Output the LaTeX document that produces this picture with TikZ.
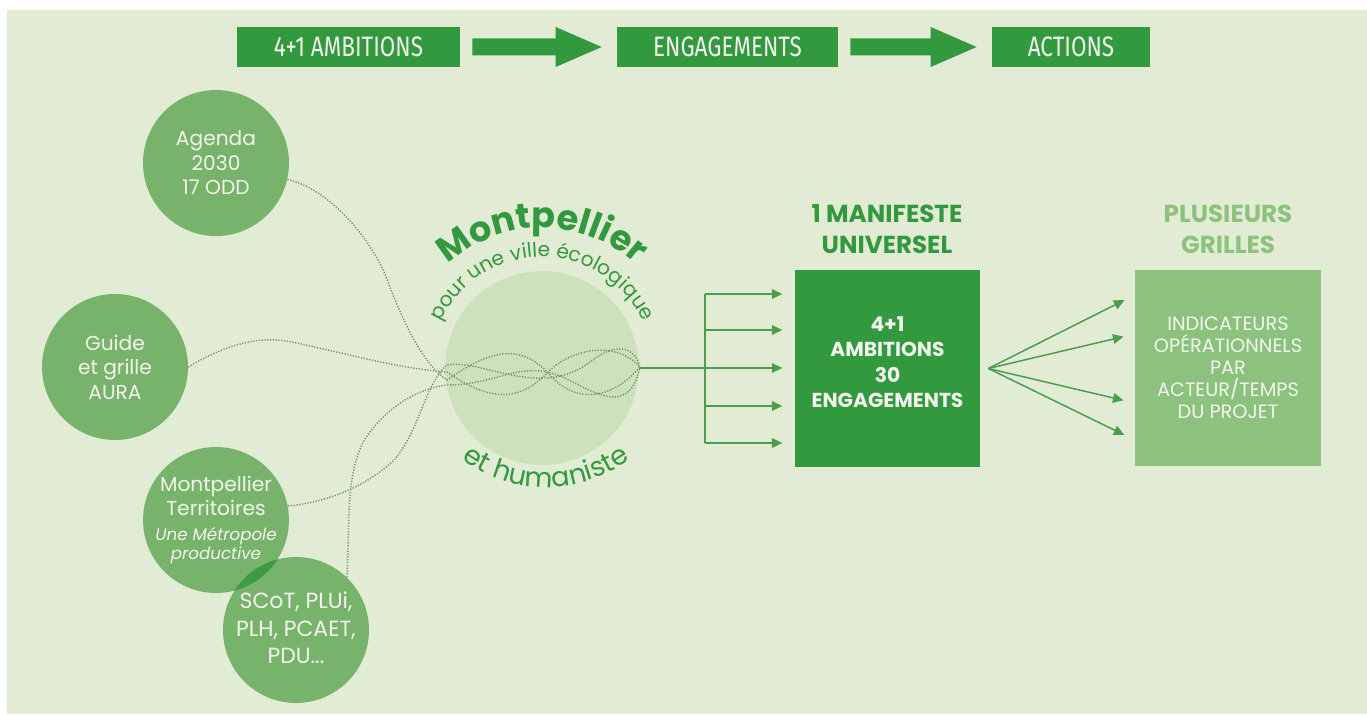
\documentclass[tikz,border=0pt]{standalone}
\usepackage{fontspec}
\setmainfont{Poppins}
\newfontfamily\condfont[FakeStretch=0.8]{Fira Sans}
\usetikzlibrary{arrows.meta,decorations.text,calc}
\definecolor{bg}{HTML}{E2ECD5}
\definecolor{dkg}{HTML}{33993F}
\definecolor{cg}{HTML}{78B36B}
\definecolor{lg}{HTML}{8CC27E}
\definecolor{bigc}{HTML}{CDE2BC}
\definecolor{dotc}{HTML}{6F9464}
\definecolor{ovl}{HTML}{3F9A45}
\definecolor{arrc}{HTML}{4A9E4C}
\definecolor{wt}{HTML}{F2F6EC}
\newcommand\fatarr[2]{\fill[dkg] ($(#1.east)+(12,-8.5)$) -- ($(#2.west)+(-61,-8.5)$) -- ($(#2.west)+(-61,-20)$) -- ($(#2.west)+(-15,0)$) -- ($(#2.west)+(-61,20)$) -- ($(#2.west)+(-61,8.5)$) -- ($(#1.east)+(12,8.5)$) -- cycle;}
\begin{document}
\begin{tikzpicture}[x=0.02cm,y=0.02cm,
  circ/.style={circle, fill=cg, inner sep=0pt, minimum size=2.92cm},
  ctext/.style={text=wt, align=center, font=\fontsize{11.5}{14}\selectfont},
  topbox/.style={fill=dkg, text=wt, inner sep=0pt, minimum height=0.8cm, font=\condfont\fontsize{16}{16}\selectfont},
  dots/.style={draw=dotc, line width=0.8pt, dash pattern=on 0.7pt off 0.9pt},
  ln/.style={draw=arrc, line width=0.85pt},
  arr/.style={ln, -{Triangle[length=6pt,width=5.5pt]}},
]
\fill[white] (0,0) rectangle (1367,714);
\fill[bg] (7,0) rectangle (1367,704);
\useasboundingbox (0,0) rectangle (1367,714);

% top row
\node[topbox, minimum width=4.46cm] (t1) at (348.5,667) {4+1 AMBITIONS};
\node[topbox, minimum width=4.42cm] (t2) at (727.5,667) {ENGAGEMENTS};
\node[topbox, minimum width=3.16cm] (t3) at (1071,667) {ACTIONS};
\fatarr{t1}{t2}
\fatarr{t2}{t3}

% source circles
\node[circ, ctext] (ag) at (216,551) {Agenda\\2030\\17 ODD};
\node[circ, ctext] (gu) at (115,347) {Guide\\et grille\\AURA};
\node[circ] (te) at (216,194) {};
\node[circ] (sc) at (296,84) {};
\begin{scope}
  \clip (216,194) circle (73);
  \fill[ovl] (296,84) circle (73);
\end{scope}
\node[ctext] (tetx) at (te.center) {Montpellier\\Territoires\\[0pt]{\itshape\fontsize{9.5}{11}\selectfont Une Métropole}\\[-3pt]{\itshape\fontsize{9.5}{11}\selectfont productive}};
\node[ctext, font=\fontsize{12.5}{15.6}\selectfont] (sctx) at (296,86) {SCoT, PLUi,\\PLH, PCAET,\\PDU...};

% central circle
\node[circle, fill=bigc, minimum size=3.88cm, inner sep=0pt] (bc) at (542,346) {};
\path[decorate, decoration={text along path, text align=center,
  text={|\color{dkg}\bfseries\fontsize{20}{20}\selectfont|Montpellier}}]
  (542,346) ++(165:140) arc[start angle=165, end angle=15, radius=140];
\path[decorate, decoration={text along path, text align=center,
  text={|\color{dkg}\fontsize{11.5}{11.5}\selectfont|pour une ville écologique}}]
  (542,346) ++(178:111) arc[start angle=178, end angle=2, radius=111];
\path[decorate, decoration={text along path, text align=center,
  text={|\color{dkg}\fontsize{15.5}{15.5}\selectfont|et humaniste}}]
  (546,369) ++(220:142) arc[start angle=220, end angle=320, radius=142];

% dotted links
\draw[dots] (ag.-13) .. controls (330,525) and (370,475) .. (385,440) .. controls (400,400) and (420,352) .. (447,334)
  .. controls (490,364) and (520,372) .. (550,339) .. controls (575,310) and (612,314) .. (640,347);
\draw[dots] (gu.east) .. controls (230,372) and (262,378) .. (292,372) .. controls (340,362) and (400,345) .. (447,342)
  .. controls (490,312) and (520,312) .. (548,342) .. controls (575,368) and (618,372) .. (640,347);
\draw[dots] (sc.46) .. controls (350,190) and (345,240) .. (365,275) .. controls (385,305) and (415,325) .. (447,329)
  .. controls (500,329) and (520,356) .. (565,336) .. controls (600,318) and (630,300) .. (640,347);
\draw[dots] (te.11) .. controls (330,212) and (370,230) .. (395,255) .. controls (420,285) and (425,330) .. (447,349)
  .. controls (480,356) and (540,314) .. (590,352) .. controls (615,372) and (635,368) .. (640,347);

% manifeste
\node[fill=dkg, minimum width=3.7cm, minimum height=3.94cm, inner sep=0pt] (mb) at (887.5,345.5) {};
\node[text=wt, align=center, font=\bfseries\fontsize{11.5}{14.5}\selectfont] (mbtx) at (887.5,352) {4+1\\AMBITIONS\\30\\ENGAGEMENTS};
\node[text=dkg, align=center, font=\bfseries\fontsize{14}{17.6}\selectfont] (mt) at (887,485) {1 MANIFESTE\\UNIVERSEL};
\node[fill=lg, minimum width=3.72cm, minimum height=3.92cm, inner sep=0pt, text=wt, align=center,
  font=\fontsize{11}{12.5}\selectfont] (gb) at (1228,346) {INDICATEURS\\OPÉRATIONNELS\\PAR\\ACTEUR/TEMPS\\DU PROJET};
\node[text=lg, align=center, font=\bfseries\fontsize{14}{17.6}\selectfont] (gt) at (1228,485) {PLUSIEURS\\GRILLES};

% connectors into manifeste
\coordinate (hub) at (705,346);
\draw[ln] (bc.east) -- (hub);
\draw[ln] (705,420) -- (705,271);
\foreach \yy in {420,384,346,308,271}
  \draw[arr, shorten >=7pt] (705,\yy) -- (mb.west |- 0,\yy);

% fan to grilles
\coordinate (fo) at ($(mb.east)+(8,0)$);
\foreach \yy in {419,380,311,274}
  \draw[arr, shorten >=6.5pt] (fo) -- (gb.west |- 0,\yy);
\end{tikzpicture}
\end{document}
